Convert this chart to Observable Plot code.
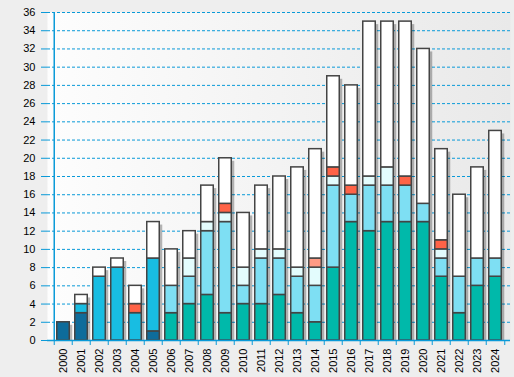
<!DOCTYPE html>
<html>
<head>
<meta charset="utf-8">
<script src="https://cdn.jsdelivr.net/npm/d3@7"></script>
<script src="https://cdn.jsdelivr.net/npm/@observablehq/plot@0.6"></script>
<style>
  html, body { margin: 0; padding: 0; background: #eeeeee; }
  #chart svg { display: block; }
</style>
</head>
<body>
<div id="chart"></div>
<script>
const years = ["2000","2001","2002","2003","2004","2005","2006","2007","2008","2009","2010","2011","2012","2013","2014","2015","2016","2017","2018","2019","2020","2021","2022","2023","2024"];
const seriesNames = ["A","B","C","D","E","F","F2","G"];
const seriesColors = ["#0e6c9b","#18bde2","#00b9aa","#7edff3","#e3fcfd","#ff6347","#ff9b85","#ffffff"];
const sA  = [2,3,0,0,0,1,0,0,0,0,0,0,0,0,0,0,0,0,0,0,0,0,0,0,0];
const sB  = [0,1,7,8,3,8,0,0,0,0,0,0,0,0,0,0,0,0,0,0,0,0,0,0,0];
const sC  = [0,0,0,0,0,0,3,4,5,3,4,4,5,3,2,8,13,12,13,13,13,7,3,6,7];
const sD  = [0,0,0,0,0,0,3,3,7,10,2,5,4,4,4,9,3,5,4,4,2,2,4,3,2];
const sE  = [0,0,0,0,0,0,0,2,1,1,2,1,1,1,2,1,0,1,2,0,0,1,0,0,0];
const sF  = [0,0,0,0,1,0,0,0,0,1,0,0,0,0,0,1,1,0,0,1,0,1,0,0,0];
const sF2 = [0,0,0,0,0,0,0,0,0,0,0,0,0,0,1,0,0,0,0,0,0,0,0,0,0];
const sG  = [0,1,1,1,2,4,4,3,4,5,6,7,8,11,12,10,11,17,16,17,17,10,9,10,14];
const yTicks = [0,2,4,6,8,10,12,14,16,18,20,22,24,26,28,30,32,34,36];

const allSeries = [sA,sB,sC,sD,sE,sF,sF2,sG];
const rows = [];
years.forEach((yr, i) => {
  allSeries.forEach((arr, k) => {
    if (arr[i] > 0) rows.push({year: yr, series: seriesNames[k], value: arr[i]});
  });
});
const totals = years.map((yr, i) => ({year: yr, total: allSeries.reduce((s, a) => s + a[i], 0)}));

const W = 514, H = 377, mL = 47, mR = 4, mT = 12, mB = 37;
const step = (W - mL - mR) / years.length;
const innerH = H - mT - mB;
const blue = "#0a9ad8";

const chart = Plot.plot({
  width: W, height: H,
  marginLeft: mL, marginRight: mR, marginTop: mT, marginBottom: mB,
  style: {fontFamily: "'Liberation Sans', Arial, sans-serif", fontSize: "11px", background: "transparent", color: "#000"},
  x: {domain: years, padding: 0, label: null},
  y: {domain: [0, 36], label: null},
  color: {domain: seriesNames, range: seriesColors},
  marks: [
    Plot.frame({fill: "url(#bgGrad)", stroke: null}),
    Plot.gridY(yTicks.filter(d => d > 0), {stroke: blue, strokeOpacity: 1, strokeDasharray: "3,2", strokeWidth: 1}),
    Plot.barY(totals, {x: "year", y: "total", fill: "#000", fillOpacity: 0.28, insetLeft: 2.75, insetRight: 2.75, dx: 3, dy: 3, insetBottom: 3}),
    Plot.barY(rows, Plot.stackY({x: "year", y: "value", fill: "series", stroke: "#444", strokeWidth: 1.5, insetLeft: 2.75, insetRight: 2.75})),
    Plot.ruleY([0], {stroke: blue, strokeWidth: 1.5}),
    Plot.ruleX([years[0]], {dx: -step / 2, stroke: blue, strokeWidth: 1.5}),
    Plot.ruleX(years, {dx: -step / 2, stroke: blue, insetTop: innerH, insetBottom: -5}),
    Plot.ruleX([years[years.length - 1]], {dx: step / 2, stroke: blue, insetTop: innerH, insetBottom: -5}),
    Plot.axisY({ticks: yTicks, tickSize: 6, tickPadding: 6, stroke: blue, fill: "#000", label: null}),
    Plot.axisX({tickSize: 0, tickPadding: 8, tickRotate: -90, fill: "#000", label: null})
  ]
});

const svg = d3.select(chart);
const defs = svg.insert("defs", ":first-child");
const grad = defs.append("linearGradient").attr("id", "bgGrad").attr("x1", "0").attr("y1", "0").attr("x2", "1").attr("y2", "0");
grad.append("stop").attr("offset", "0").attr("stop-color", "#fdfdfd");
grad.append("stop").attr("offset", "1").attr("stop-color", "#e9e9e9");

document.getElementById("chart").appendChild(chart);
</script>
</body>
</html>
